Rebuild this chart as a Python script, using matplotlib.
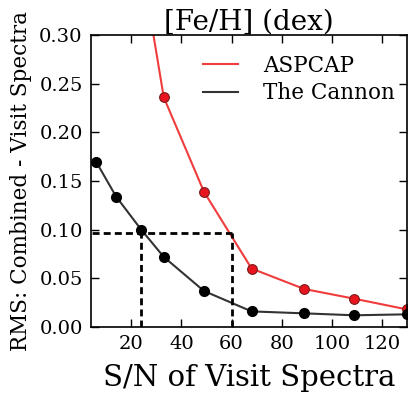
import matplotlib
matplotlib.use('Agg')
import matplotlib.pyplot as plt
import numpy as np

plt.rcParams['font.family'] = 'DejaVu Serif'
plt.rcParams['mathtext.fontset'] = 'dejavuserif'

sn = [6, 14, 24, 33, 49, 68, 89, 109, 130]
cannon = [0.170, 0.134, 0.100, 0.072, 0.037, 0.016, 0.014, 0.012, 0.013]
sn_aspcap = [24, 33, 49, 68, 89, 109, 130]
aspcap = [0.376, 0.236, 0.139, 0.060, 0.039, 0.029, 0.018]

rms_level = 0.097
sn_cannon_cut = 24
sn_aspcap_cut = 60

fig = plt.figure(figsize=(4.08, 3.93), dpi=100)
ax = fig.add_axes([0.223, 0.168, 0.775, 0.743])

ax.plot(sn_aspcap, aspcap, color='#f03c3c', lw=1.5, label='ASPCAP')
ax.plot(sn_aspcap, aspcap, 'o', color='#e8141e', mec='#7a1a1a', mew=0.8, ms=7)
ax.plot(sn, cannon, color='#333333', lw=1.5, label='The Cannon')
ax.plot(sn, cannon, 'o', color='black', ms=7)

dash = dict(color='black', lw=2, ls=(0, (2.5, 1.5)))
ax.plot([0, sn_aspcap_cut], [rms_level, rms_level], **dash)
ax.plot([sn_cannon_cut, sn_cannon_cut], [0, rms_level], **dash)
ax.plot([sn_aspcap_cut, sn_aspcap_cut], [0, rms_level], **dash)

ax.set_xlim(4, 130)
ax.set_ylim(0, 0.30)
ax.set_xticks([20, 40, 60, 80, 100, 120])
ax.set_yticks([0.0, 0.05, 0.10, 0.15, 0.20, 0.25, 0.30])
ax.set_yticklabels(['0.00', '0.05', '0.10', '0.15', '0.20', '0.25', '0.30'])
ax.tick_params(direction='in', top=True, right=True, labelsize=14, length=6, width=1, pad=6)
for s in ax.spines.values():
    s.set_linewidth(1.2)

ax.set_title('[Fe/H] (dex)', fontsize=20, pad=4)
ax.set_xlabel('S/N of Visit Spectra', fontsize=21, labelpad=8)
ax.set_ylabel('RMS: Combined - Visit Spectra', fontsize=15.5, labelpad=5)

ax.legend(loc='upper right', bbox_to_anchor=(1.0, 0.972), frameon=False, fontsize=15.5,
          handlelength=1.6, handletextpad=1.2, labelspacing=0.25, borderaxespad=0.15)

fig.savefig('out.png', dpi=100)
